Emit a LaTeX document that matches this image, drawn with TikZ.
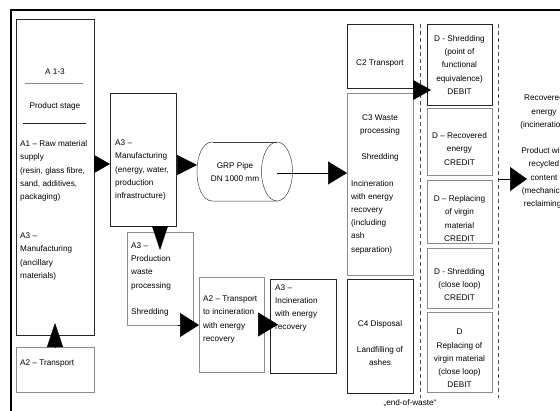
\documentclass[tikz,border=0pt]{standalone}
\usepackage{fontspec}
\setmainfont{Liberation Sans}
\usetikzlibrary{arrows.meta}
\newcommand\colorBoxDark{black!85}
\newcommand\colorBoxLight{black!45}
\newcommand\colorDash{black!70}
\newcommand\colorPipe{black!75}
\newcommand\diagramfont{\fontsize{8.2}{13.2}\selectfont}
\newcommand\dashTop{24}
\newcommand\dashBottom{398}
\newcommand\pipeRx{15.5}
\newcommand\pipeRy{29.5}
\tikzset{
	box/.style={draw=\colorBoxDark, line width=0.6pt, inner sep=0pt, outer sep=0pt},
	lightbox/.style={box, draw=\colorBoxLight},
	ltext/.style={font=\diagramfont, inner sep=0pt, align=left, anchor=west},
	ctext/.style={font=\diagramfont, inner sep=0pt, align=center},
	tri/.style 2 args={-{Triangle[length=#1pt,width=#2pt]}, line width=0.5pt},
	dashline/.style={draw=\colorDash, line width=0.6pt, dash pattern=on 4pt off 3pt},
	pipeline/.style={draw=\colorPipe, line width=0.5pt}
}
\begin{document}
\begin{tikzpicture}[x=1pt,y=-1pt]
		\useasboundingbox (0,0) rectangle (560,410);
		\fill[white] (0,0) rectangle (560,410);
		\draw[line width=1.4pt] (11,10) rectangle (590,440);
		
		\node[box, minimum width=78, minimum height=316] (a13) at (55,177) {};
		\node[lightbox, minimum width=78, minimum height=45] (a2t) at (55,369.5) {};
		\node[box, minimum width=66, minimum height=133] (manuf) at (143,159.5) {};
		\node[lightbox, minimum width=66, minimum height=93] (waste) at (160,278.5) {};
		\node[lightbox, minimum width=65, minimum height=95] (a2inc) at (231.5,324.5) {};
		\node[box, minimum width=66, minimum height=94] (a3inc) at (303,326) {};
		
		\node[ctext] (a13title) at (55,72) {A 1-3};
		\draw[\colorBoxLight] (25,83) to (83,83);
		\node[ctext] (a13stage) at (55,106) {Product stage};
		\draw[\colorBoxDark] (23,123) to (86,123);
		\node[ltext] (a1txt) at (20,171) {A1 – Raw material\\supply\\(resin, glass fibre,\\sand, additives,\\packaging)};
		\node[ltext] (a3anctxt) at (20,256.5) {A3 –\\Manufacturing\\(ancillary\\materials)};
		\node[ltext] (a2ttxt) at (20,363) {A2 – Transport};
		\node[ltext] (manuftxt) at (115,170) {A3 –\\Manufacturing\\(energy, water,\\production\\infrastructure)};
		\node[ltext] (wastetxt) at (131,279.5) {A3 –\\Production\\waste\\processing\\[13.2pt]Shredding};
		\node[ltext] (a2inctxt) at (203,319.5) {A2 – Transport\\to incineration\\with energy\\recovery};
		\node[ltext] (a3inctxt) at (275,308) {A3 –\\Incineration\\with energy\\recovery};
		
		\draw[pipeline] (212.5,142) .. controls (191.8,142) and (191.8,201) .. (212.5,201) to (277,201);
		\draw[pipeline] (212.5,142) to (277,142);
		\draw[pipeline] (277,171.5) ellipse[x radius=\pipeRx, y radius=\pipeRy];
		\node[ctext] (pipe) at (235,172) {GRP Pipe\\DN 1000 mm};
		\coordinate (pipeleft) at (197,165);
		\coordinate (pipeend) at (277,173);
		
		\node[box, minimum width=66, minimum height=64] (c2) at (380,56) {};
		\node[lightbox, minimum width=66, minimum height=182] (c3) at (380,184) {};
		\node[box, minimum width=66, minimum height=114] (c4) at (380,336) {};
		\node[ctext] (c2txt) at (380,63) {C2 Transport};
		\node[ctext] (c3top) at (380,138) {C3 Waste\\processing\\[13.2pt]Shredding};
		\node[ltext] (c3bot) at (351,217) {Incineration\\with energy\\recovery\\(including\\ash\\separation)};
		\node[ctext] (c4txt) at (380,343) {C4 Disposal\\[13.2pt]Landfilling of\\ashes};
		
		\foreach \dx in {420,498}{
			\draw[dashline] (\dx,\dashTop) to (\dx,\dashBottom);
		}
		\node[ctext] (eow) at (410,403) {„end-of-waste“};
		
		\node[box, minimum width=65, minimum height=81] (d1) at (459.5,64.5) {};
		\node[lightbox, minimum width=65, minimum height=67] (d2) at (459.5,141.5) {};
		\node[lightbox, minimum width=65, minimum height=63] (d3) at (459.5,211.5) {};
		\node[lightbox, minimum width=65, minimum height=60] (d4) at (459.5,278) {};
		\node[lightbox, minimum width=65, minimum height=80] (d5) at (459.5,352) {};
		\node[ctext] (d1txt) at (459.5,65) {D - Shredding\\(point of\\functional\\equivalence)\\DEBIT};
		\node[ctext] (d2txt) at (459.5,149) {D – Recovered\\energy\\CREDIT};
		\node[ctext] (d3txt) at (459.5,218.5) {D – Replacing\\of virgin\\material\\CREDIT};
		\node[ctext] (d4txt) at (459.5,284.5) {D - Shredding\\(close loop)\\CREDIT};
		\node[ctext] (d5txt) at (459.5,358.5) {D\\Replacing of\\virgin material\\(close loop)\\DEBIT};
		
		\node[ctext] (recovered) at (544,151.5) {Recovered\\energy\\(incineration)\\[13.2pt]Product with\\recycled\\content\\(mechanical\\reclaiming)};
		\coordinate (dout) at (498,179);
		\coordinate (recin) at (527,179);
		
		\draw[tri={24}{16}] (a2t.north) to ([yshift=12pt]a13.south);
		\draw[tri={16}{18}] ([yshift=13pt]a13.east) to ([yshift=-4.5pt]manuf.west);
		\draw[tri={20}{20}] (manuf.east |- pipeleft) to (pipeleft);
		\draw[tri={24}{16}] (waste.north |- manuf.south) to ([yshift=-18pt]waste.north);
		\draw[tri={19}{24}] ([xshift=-15pt]waste.south east) to (a2inc.west |- waste.south);
		\draw[tri={20}{24}] ([xshift=-6pt]a2inc.east) to ([xshift=8pt]a3inc.west |- a2inc.east);
		\draw[tri={19}{23}] (pipeend) to (c3.west |- pipeend);
		\draw[tri={18}{20}] ([yshift=-34pt]c2.east) to ([xshift=4pt,yshift=-25.5pt]d1.west);
		\draw[tri={17}{24}] (dout) to (recin);
	\end{tikzpicture}
\end{document}
